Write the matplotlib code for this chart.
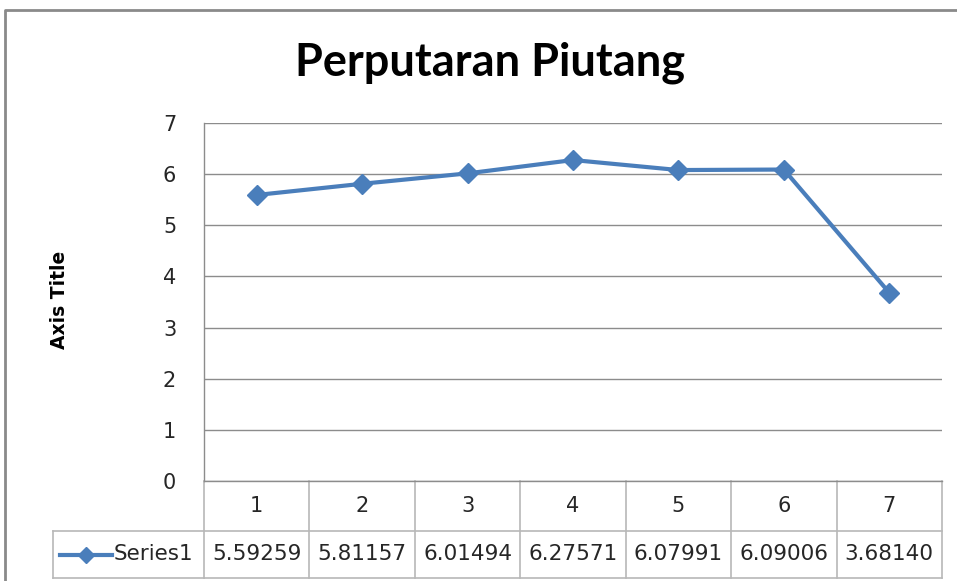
import numpy as np
import matplotlib.pyplot as plt
import matplotlib.transforms as mtransforms
from matplotlib.lines import Line2D

# data
categories = [1, 2, 3, 4, 5, 6, 7]
values = [5.59259, 5.81157, 6.01494, 6.27571, 6.07991, 6.09006, 3.68140]
value_labels = ["5.59259", "5.81157", "6.01494", "6.27571", "6.07991", "6.09006", "3.68140"]
series_name = "Series1"

plt.rcParams['font.family'] = ['DejaVu Sans']

W, H = 957, 581
fig = plt.figure(figsize=(W / 100, H / 100), dpi=100)
fig.patch.set_facecolor("white")

# plot area in pixels
L, R, T, B = 204, 942, 123, 481
ax = fig.add_axes([L / W, 1 - B / H, (R - L) / W, (B - T) / H])

blue = "#4A7EBB"
grid_c = "#8c8c8c"
txt_c = "#262626"

ax.plot(categories, values, color=blue, lw=3, marker="D", ms=10,
        markerfacecolor=blue, markeredgecolor=blue, zorder=3)

ax.set_xlim(0.5, 7.5)
ax.set_ylim(0, 7)
ax.set_yticks(range(0, 8))
ax.set_xticks([])
ax.grid(axis="y", color=grid_c, lw=1)
ax.tick_params(axis="y", length=0, pad=20, labelsize=15, labelcolor=txt_c)
for s in ax.spines.values():
    s.set_color(grid_c)
    s.set_linewidth(1)
ax.spines["top"].set_visible(False)
ax.spines["right"].set_visible(False)

fig.text(490 / W, 1 - 75 / H, "Perputaran Piutang", ha="center", va="baseline",
         fontsize=32.5, fontweight="bold", family=["Lato", "DejaVu Sans"], color="black")
fig.text(60 / W, 1 - 300 / H, "Axis Title", ha="center", va="center", rotation=90,
         fontsize=13.5, fontweight="bold", color="black")

# data table under the axis (x in data, y in axes units)
trans = mtransforms.blended_transform_factory(ax.transData, ax.transAxes)
h = B - T
r1 = -50 / h
r2 = -97 / h
tab_c = "#b8b8b8"
edges = np.arange(0.5, len(categories) + 1, 1)
for e in edges:
    ax.add_line(Line2D([e, e], [0, r2], transform=trans, color=tab_c, lw=1.2, clip_on=False))
ax.add_line(Line2D([edges[0], edges[-1]], [r1, r1], transform=trans, color=tab_c, lw=1.2, clip_on=False))
ax.add_line(Line2D([edges[0], edges[-1]], [r2, r2], transform=trans, color=tab_c, lw=1.2, clip_on=False))

for c, lab in zip(categories, value_labels):
    ax.text(c, r1 / 2, str(c), transform=trans, ha="center", va="center",
            fontsize=15, color=txt_c)
    ax.text(c, (r1 + r2) / 2, lab, transform=trans, ha="center", va="center",
            fontsize=15.5, color=txt_c)

# legend cell at the left of the series row
lx0 = 53 / W
yb = 1 - 578 / H
yt = 1 - 531 / H
ym = (yb + yt) / 2
fig.add_artist(Line2D([lx0, L / W], [yt, yt], transform=fig.transFigure, color=tab_c, lw=1.2))
fig.add_artist(Line2D([lx0, L / W], [yb, yb], transform=fig.transFigure, color=tab_c, lw=1.2))
fig.add_artist(Line2D([lx0, lx0], [yb, yt], transform=fig.transFigure, color=tab_c, lw=1.2))
fig.add_artist(Line2D([60 / W, 112 / W], [ym, ym], transform=fig.transFigure, color=blue, lw=3))
fig.add_artist(Line2D([86 / W], [ym], transform=fig.transFigure, color=blue, marker="D", ms=8))
fig.text(114 / W, ym, series_name, ha="left", va="center", fontsize=15.5, color=txt_c)

# chart border
fig.add_artist(Line2D([5 / W, 5 / W, 1], [0, 1 - 10 / H, 1 - 10 / H], transform=fig.transFigure,
                      color="#8a8a8a", lw=2))

fig.savefig("out.png", dpi=100)
